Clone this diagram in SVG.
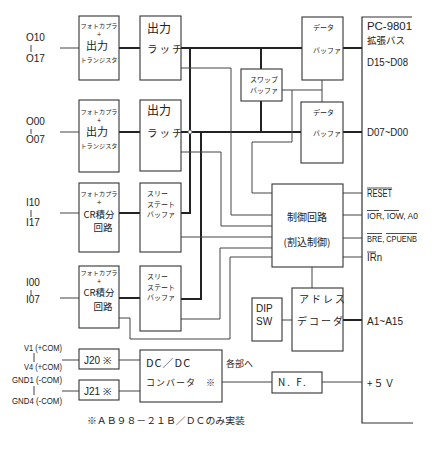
<svg xmlns="http://www.w3.org/2000/svg" width="432" height="452" viewBox="0 0 432 452">
<style>
.box{fill:#fff;stroke:#333;stroke-width:1.1}
.w{fill:none;stroke:#444;stroke-width:1}
.b{fill:none;stroke:#222;stroke-width:2}
.bus{fill:none;stroke:#333;stroke-width:1.2}
.t{font-family:"Noto Sans CJK JP","Noto Sans",sans-serif;fill:#222}
.p{font-family:"Liberation Sans",sans-serif;fill:#222}
.s{font-size:6.2px}
.m{font-size:7px}
.l{font-size:11px}
.lab{font-family:"Liberation Sans",sans-serif;fill:#222}
.ov{stroke:#222;stroke-width:0.8}
</style>
<rect width="432" height="452" fill="#fff"/>

<g id="connectors">
  <path class="w" d="M60 48H79M60 132H79M60 213H79M60 298H79"/>
  <path class="b" d="M119 48H140M119 132H140M119 213H140M119 298H140"/>
  <path class="b" d="M181 48H302M181 132H301M343 48H362M343 132H362"/>
  <path class="b" d="M190 48V213H181M201 132V299H181"/>
  <path class="b" d="M261 48V69M261 101V132"/>
  <path d="M190 129.5L192.5 132L190 134.5L187.5 132Z" fill="#fff" stroke="#222" stroke-width="0.8"/>
  <path class="w" d="M181 68H231V215H272"/>
  <path class="w" d="M181 152H221V226H272"/>
  <path class="w" d="M282 90H322M322 80V102M292 90V142H252V193H272"/>
  <path class="w" d="M181 237H272"/>
  <path class="w" d="M181 319H220V248H272"/>
  <path class="w" d="M119 318H130V339H230V257H272"/>
  <path class="w" d="M343 193H362M343 215H362M343 238H362M343 257H362"/>
  <path class="w" d="M312 267V288M282 320H292"/>
  <path class="b" d="M343 320H362"/>
  <path class="w" d="M62 360H79M119 360H140M62 391H79M119 391H140"/>
  <path class="w" d="M222 382H272M322 382H362"/>
  <path class="bus" d="M412 17H362V423H413"/>
</g>

<g id="pc1">
  <rect class="box" x="79" y="16" width="40" height="64"/>
  <text class="t s" x="99" y="28" text-anchor="middle">フォトカプラ</text>
  <text class="p" x="99" y="36.5" font-size="7" text-anchor="middle">+</text>
  <text class="t l" x="97" y="50" text-anchor="middle">出力</text>
  <text class="t s" x="99" y="62" text-anchor="middle">トランジスタ</text>
</g>
<g id="latch1">
  <rect class="box" x="140" y="16" width="41" height="64"/>
  <text class="t" x="147" y="33" font-size="12">出力</text>
  <text class="t" x="147" y="53" font-size="10.5" letter-spacing="2">ラッチ</text>
</g>
<g id="pc2">
  <rect class="box" x="79" y="100" width="40" height="72"/>
  <text class="t s" x="99" y="114" text-anchor="middle">フォトカプラ</text>
  <text class="p" x="99" y="122.5" font-size="7" text-anchor="middle">+</text>
  <text class="t l" x="97" y="136" text-anchor="middle">出力</text>
  <text class="t s" x="99" y="147.5" text-anchor="middle">トランジスタ</text>
</g>
<g id="latch2">
  <rect class="box" x="140" y="100" width="41" height="71"/>
  <text class="t" x="147" y="115" font-size="12">出力</text>
  <text class="t" x="147" y="137" font-size="10.5" letter-spacing="2">ラッチ</text>
</g>
<g id="pc3">
  <rect class="box" x="79" y="183" width="40" height="69"/>
  <text class="t s" x="99" y="196" text-anchor="middle">フォトカプラ</text>
  <text class="p" x="99" y="205" font-size="8" text-anchor="middle">+</text>
  <text class="t" x="99" y="217.5" font-size="9.5" text-anchor="middle">CR積分</text>
  <text class="t" x="103" y="231" font-size="9.5" text-anchor="middle">回路</text>
</g>
<g id="tsb3">
  <rect class="box" x="140" y="183" width="41" height="69"/>
  <text class="t m" x="147" y="196">スリー</text>
  <text class="t m" x="147" y="206.5">ステート</text>
  <text class="t m" x="147" y="217">バッファ</text>
</g>
<g id="pc4">
  <rect class="box" x="79" y="266" width="40" height="62"/>
  <text class="t s" x="99" y="275" text-anchor="middle">フォトカプラ</text>
  <text class="p" x="99" y="283.5" font-size="7" text-anchor="middle">+</text>
  <text class="t" x="99" y="296" font-size="9.5" text-anchor="middle">CR積分</text>
  <text class="t" x="103" y="309.5" font-size="9.5" text-anchor="middle">回路</text>
</g>
<g id="tsb4">
  <rect class="box" x="140" y="266" width="41" height="65"/>
  <text class="t m" x="147" y="279">スリー</text>
  <text class="t m" x="147" y="289.5">ステート</text>
  <text class="t m" x="147" y="300">バッファ</text>
</g>
<g id="swap">
  <rect class="box" x="241" y="69" width="41" height="32"/>
  <text class="t m" x="250" y="82">スワップ</text>
  <text class="t m" x="250" y="93">バッファ</text>
</g>
<g id="dbuf1">
  <rect class="box" x="302" y="17" width="41" height="63"/>
  <text class="t m" x="313" y="30">データ</text>
  <text class="t m" x="313" y="53">バッファ</text>
</g>
<g id="dbuf2">
  <rect class="box" x="301" y="102" width="42" height="61"/>
  <text class="t m" x="313" y="115">データ</text>
  <text class="t m" x="313" y="136">バッファ</text>
</g>
<g id="ctrl">
  <rect class="box" x="272" y="184" width="71" height="83"/>
  <text class="t" x="307" y="221" font-size="10" text-anchor="middle">制御回路</text>
  <text class="t" x="307" y="246" font-size="10" text-anchor="middle">(割込制御)</text>
</g>
<g id="dipsw">
  <rect class="box" x="252" y="298" width="30" height="43"/>
  <text class="lab" x="256" y="312" font-size="10">DIP</text>
  <text class="lab" x="256" y="325" font-size="10">SW</text>
</g>
<g id="decoder">
  <rect class="box" x="292" y="288" width="51" height="63"/>
  <text class="t" x="299" y="303" font-size="10" letter-spacing="2">アドレス</text>
  <text class="t" x="297" y="325" font-size="10" letter-spacing="2">デコーダ</text>
</g>
<g id="j20">
  <rect class="box" x="79" y="349" width="40" height="20"/>
  <text class="lab" x="84" y="363.5" font-size="10">J20 ※</text>
</g>
<g id="j21">
  <rect class="box" x="79" y="380" width="40" height="20"/>
  <text class="lab" x="84" y="394.5" font-size="10">J21 ※</text>
</g>
<g id="dcdc">
  <rect class="box" x="140" y="350" width="82" height="52"/>
  <text class="t" x="146" y="367" font-size="11" letter-spacing="1">DC／DC</text>
  <text class="t" x="146" y="386" font-size="9" letter-spacing="1">コンバータ　※</text>
</g>
<g id="nf">
  <rect class="box" x="272" y="372" width="50" height="21"/>
  <text class="t" x="278" y="386" font-size="10" letter-spacing="2">N. F.</text>
</g>

<g id="labels">
  <text class="lab" x="26" y="41" font-size="10">O10</text>
  <path class="w" d="M31 45V52"/>
  <text class="lab" x="26" y="62" font-size="10">O17</text>
  <text class="lab" x="26" y="125" font-size="10">O00</text>
  <path class="w" d="M31 129V134"/>
  <text class="lab" x="26" y="143" font-size="10">O07</text>
  <text class="lab" x="26" y="206" font-size="10">I10</text>
  <path class="w" d="M31 210V217"/>
  <text class="lab" x="26" y="226" font-size="10">I17</text>
  <text class="lab" x="26" y="286" font-size="10">I00</text>
  <path class="w" d="M31 290V295"/>
  <text class="lab" x="26" y="303" font-size="10">I07</text>

  <text class="lab" x="367" y="30" font-size="10" textLength="45" lengthAdjust="spacingAndGlyphs">PC-9801</text>
  <text class="t" x="367" y="44" font-size="9.5">拡張バス</text>
  <text class="lab" x="367" y="66" font-size="10" textLength="41" lengthAdjust="spacingAndGlyphs">D15~D08</text>
  <text class="lab" x="367" y="136" font-size="10" textLength="41" lengthAdjust="spacingAndGlyphs">D07~D00</text>
  <text class="lab" x="367" y="197" font-size="10" textLength="25" lengthAdjust="spacingAndGlyphs">RESET</text>
  <line class="ov" x1="367" y1="188" x2="392" y2="188"/>
  <text class="lab" x="367" y="219" font-size="9.5" textLength="51" lengthAdjust="spacingAndGlyphs">IOR, IOW, A0</text>
  <line class="ov" x1="367" y1="210.5" x2="379" y2="210.5"/>
  <line class="ov" x1="384" y1="210.5" x2="399" y2="210.5"/>
  <text class="lab" x="367" y="242" font-size="9" textLength="50" lengthAdjust="spacingAndGlyphs">BRE, CPUENB</text>
  <line class="ov" x1="367" y1="233.5" x2="382" y2="233.5"/>
  <line class="ov" x1="386" y1="233.5" x2="417" y2="233.5"/>
  <text class="lab" x="367" y="261" font-size="10" textLength="15" lengthAdjust="spacingAndGlyphs">IRn</text>
  <line class="ov" x1="367" y1="252" x2="376" y2="252"/>
  <text class="lab" x="367" y="325" font-size="10" textLength="36" lengthAdjust="spacingAndGlyphs">A1~A15</text>
  <text class="t" x="367" y="387" font-size="10" letter-spacing="1">+５Ｖ</text>
  <text class="t" x="226" y="367" font-size="9">各部へ</text>

  <text class="lab" x="24" y="351" font-size="9" textLength="38" lengthAdjust="spacingAndGlyphs">V1 (+COM)</text>
  <text class="lab" x="24" y="370" font-size="9" textLength="38" lengthAdjust="spacingAndGlyphs">V4 (+COM)</text>
  <path class="w" d="M34 353V362" stroke-width="0.8"/>
  <text class="lab" x="12" y="383" font-size="9" textLength="50" lengthAdjust="spacingAndGlyphs">GND1 (-COM)</text>
  <text class="lab" x="12" y="404" font-size="9" textLength="50" lengthAdjust="spacingAndGlyphs">GND4 (-COM)</text>
  <path class="w" d="M34 386V395" stroke-width="0.8"/>

  <text class="t" x="87" y="424" font-size="9.5" textLength="158" lengthAdjust="spacingAndGlyphs">※ＡＢ９８－２１Ｂ／ＤＣのみ実装</text>
</g>
</svg>
